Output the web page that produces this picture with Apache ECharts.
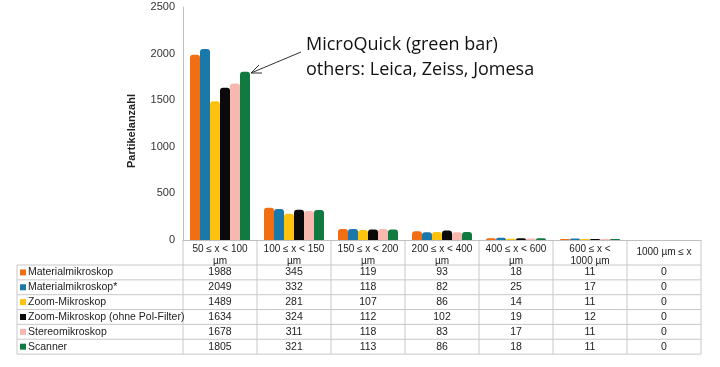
<!DOCTYPE html>
<html><head><meta charset="utf-8">
<script src="https://cdn.jsdelivr.net/npm/echarts@6/dist/echarts.min.js"></script>
<style>html,body{margin:0;padding:0;background:#fff}#c{width:720px;height:367px}</style></head>
<body><div id="c"></div>
<script>
const categories = ['50 ≤ x < 100\nµm', '100 ≤ x < 150\nµm', '150 ≤ x < 200\nµm', '200 ≤ x < 400\nµm', '400 ≤ x < 600\nµm', '600 ≤ x <\n1000 µm', '1000 µm ≤ x'];
const seriesNames = ['Materialmikroskop', 'Materialmikroskop*', 'Zoom-Mikroskop', 'Zoom-Mikroskop (ohne Pol-Filter)', 'Stereomikroskop', 'Scanner'];
const materialmikroskop = [1988, 345, 119, 93, 18, 11, 0];
const materialmikroskopStar = [2049, 332, 118, 82, 25, 17, 0];
const zoomMikroskop = [1489, 281, 107, 86, 14, 11, 0];
const zoomMikroskopOhnePol = [1634, 324, 112, 102, 19, 12, 0];
const stereomikroskop = [1678, 311, 118, 83, 17, 11, 0];
const scanner = [1805, 321, 113, 86, 18, 11, 0];
const yTicks = [0, 500, 1000, 1500, 2000, 2500];
const colors = ['#F26E13', '#1B78AA', '#FFC20E', '#0A0A0A', '#F7B9AF', '#117A40'];
const allValues = [materialmikroskop, materialmikroskopStar, zoomMikroskop, zoomMikroskopOhnePol, stereomikroskop, scanner];

const FONT = '"Liberation Sans", Arial, sans-serif';
const chart = echarts.init(document.getElementById('c'), null, {renderer: 'canvas'});

const series = seriesNames.map((n, i) => ({
  name: n, type: 'bar', data: allValues[i], barWidth: 10, barGap: '0%',
  itemStyle: {color: colors[i], borderRadius: [3, 3, 0, 0]},
  emphasis: {disabled: true}, animation: false
}));

chart.setOption({
  animation: false,
  backgroundColor: '#fff',
  grid: {left: 183, right: 19, top: 7, bottom: 127, containLabel: false},
  xAxis: {
    type: 'category', data: categories,
    axisLine: {show: true, lineStyle: {color: '#BFBFBF'}},
    axisTick: {show: false},
    axisLabel: {
      interval: 0, margin: 3, fontSize: 10, lineHeight: 12, color: '#222', fontFamily: FONT,
      formatter: v => v.indexOf('\n') < 0 ? '{s|' + v + '}' : v,
      rich: {s: {fontSize: 10, color: '#222', fontFamily: FONT, padding: [6, 0, 0, 0]}}
    }
  },
  yAxis: {
    type: 'value', min: yTicks[0], max: yTicks[yTicks.length - 1], interval: 500,
    axisLine: {show: true, lineStyle: {color: '#BFBFBF'}},
    axisTick: {show: false},
    splitLine: {show: false},
    axisLabel: {fontSize: 11, color: '#333', margin: 8, fontFamily: FONT, formatter: v => String(v)}
  },
  series: series
});

// Build table from the data arrays, aligned to the category axis
const lineColor = '#C8C8C8';
const centers = categories.map((c, i) => chart.convertToPixel({xAxisIndex: 0}, i));
const half = (centers[1] - centers[0]) / 2;
const xL = centers[0] - half, xR = centers[centers.length - 1] + half;
const yTop = chart.convertToPixel({yAxisIndex: 0}, 0);
const headerBottom = yTop + 25;
const rowH = 14.85;
const tableLeft = 17;
const tableBottom = headerBottom + rowH * seriesNames.length;
const g = [];
const hline = (x1, x2, y) => g.push({type: 'line', silent: true, shape: {x1, y1: y, x2, y2: y}, style: {stroke: lineColor, lineWidth: 1}});
const vline = (x, y1, y2) => g.push({type: 'line', silent: true, shape: {x1: x, y1, x2: x, y2}, style: {stroke: lineColor, lineWidth: 1}});
hline(tableLeft, xR, headerBottom);
for (let r = 1; r <= seriesNames.length; r++) hline(tableLeft, xR, headerBottom + rowH * r);
vline(tableLeft, headerBottom, tableBottom);
for (let i = 0; i <= categories.length; i++) vline(xL + 2 * half * i, yTop, tableBottom);
seriesNames.forEach((n, r) => {
  const cy = headerBottom + rowH * r + rowH / 2;
  g.push({type: 'rect', silent: true, shape: {x: 20, y: cy - 3, width: 6, height: 6}, style: {fill: colors[r]}});
  g.push({type: 'text', silent: true, x: 28, y: cy, style: {text: n, fill: '#222', font: '10.5px ' + FONT, textVerticalAlign: 'middle', textAlign: 'left'}});
  allValues[r].forEach((v, i) => {
    g.push({type: 'text', silent: true, x: centers[i], y: cy, style: {text: String(v), fill: '#222', font: '10.5px ' + FONT, textAlign: 'center', textVerticalAlign: 'middle'}});
  });
});
// y axis name
g.push({type: 'text', silent: true, x: 132, y: 131, rotation: Math.PI / 2, style: {text: 'Partikelanzahl', fill: '#222', font: 'bold 11px ' + FONT, textAlign: 'center', textVerticalAlign: 'middle'}});
// annotation
g.push({type: 'text', silent: true, x: 306, y: 32, style: {text: 'MicroQuick (green bar)\nothers: Leica, Zeiss, Jomesa', fill: '#111', font: '18px "Open Sans", sans-serif', lineHeight: 25, textAlign: 'left'}});
g.push({type: 'line', silent: true, shape: {x1: 301, y1: 52, x2: 251, y2: 73}, style: {stroke: '#333', lineWidth: 1}});
g.push({type: 'polyline', silent: true, shape: {points: [[259, 65], [251, 73], [262, 73]]}, style: {stroke: '#333', lineWidth: 1, fill: null}});
chart.setOption({graphic: g});
</script>
</body></html>
